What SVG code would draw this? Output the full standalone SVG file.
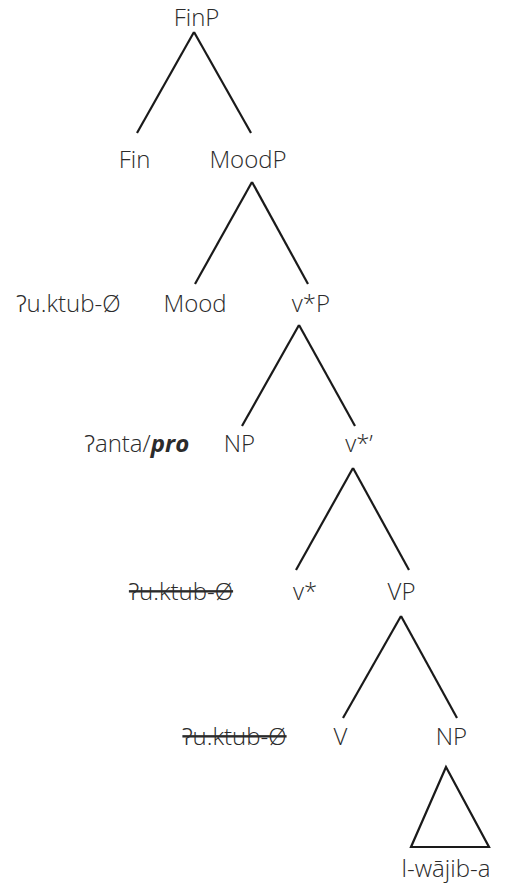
<svg xmlns="http://www.w3.org/2000/svg" width="513" height="895" viewBox="0 0 513 895">
<style>
text{font-family:"Open Sans","Noto Sans","DejaVu Sans",sans-serif;font-size:24px;font-weight:300;fill:#2b2b2b;text-anchor:middle}
.strike{text-decoration:line-through}
.edges line,.edges polygon{stroke:#1a1a1a;stroke-width:2.2;fill:none;stroke-linecap:butt}
</style>
<rect width="513" height="895" fill="#fff"/>
<g class="edges" id="connectors">
<line x1="194" y1="32" x2="137" y2="133"/>
<line x1="194" y1="32" x2="251" y2="133"/>
<line x1="252" y1="182" x2="195" y2="284"/>
<line x1="252" y1="182" x2="308" y2="284"/>
<line x1="299" y1="325" x2="242" y2="426"/>
<line x1="299" y1="325" x2="355" y2="426"/>
<line x1="353" y1="468" x2="296" y2="570"/>
<line x1="353" y1="468" x2="409" y2="570"/>
<line x1="401" y1="616" x2="343" y2="718"/>
<line x1="401" y1="616" x2="457" y2="718"/>
<polygon points="446,767 411,847 489,847"/>
</g>
<g id="n-finp"><text x="196.5" y="26">FinP</text></g>
<g id="n-fin"><text x="134.5" y="168">Fin</text></g>
<g id="n-moodp"><text x="248" y="168">MoodP</text></g>
<g id="n-verb1"><text x="68.5" y="312">Ɂu.ktub-Ø</text></g>
<g id="n-mood"><text x="195" y="312">Mood</text></g>
<g id="n-vstarp"><text x="311" y="312">v*P</text></g>
<g id="n-subj"><text x="137" y="452">Ɂanta/<tspan font-weight="bold" font-style="italic">pro</tspan></text></g>
<g id="n-np1"><text x="239.5" y="452">NP</text></g>
<g id="n-vstarbar"><text x="359" y="452">v*’</text></g>
<g id="n-verb2"><text class="strike" x="181" y="600">Ɂu.ktub-Ø</text></g>
<g id="n-vstar"><text x="305" y="600">v*</text></g>
<g id="n-vp"><text x="401.5" y="600">VP</text></g>
<g id="n-verb3"><text class="strike" x="234.5" y="745">Ɂu.ktub-Ø</text></g>
<g id="n-v"><text x="340.5" y="745">V</text></g>
<g id="n-np2"><text x="451.5" y="745">NP</text></g>
<g id="n-obj"><text x="446" y="877">l-wājib-a</text></g>
</svg>
